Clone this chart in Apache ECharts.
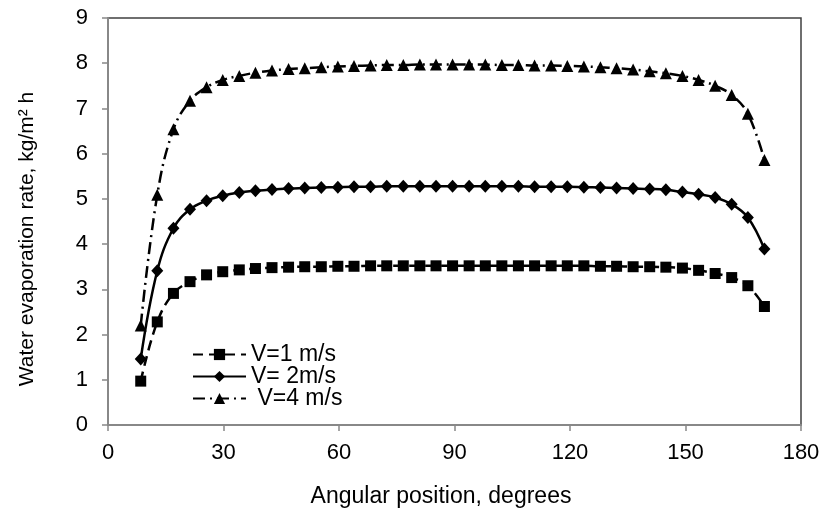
<!DOCTYPE html>
<html>
<head>
<meta charset="utf-8">
<script src="https://cdn.jsdelivr.net/npm/echarts@6/dist/echarts.min.js"></script>
<style>
html,body{margin:0;padding:0;background:#fff;}
#chart{width:823px;height:512px;}
</style>
</head>
<body>
<div id="chart"></div>
<script>
const angles = [8.5, 12.8, 17.0, 21.3, 25.6, 29.8, 34.1, 38.3, 42.6, 46.9, 51.1, 55.4, 59.7, 63.9, 68.2, 72.4, 76.7, 81.0, 85.2, 89.5, 93.8, 98.0, 102.3, 106.6, 110.8, 115.1, 119.3, 123.6, 127.9, 132.1, 136.4, 140.7, 144.9, 149.2, 153.4, 157.7, 162.0, 166.2, 170.5];
const v1 = [0.97, 2.28, 2.91, 3.17, 3.32, 3.39, 3.43, 3.46, 3.48, 3.49, 3.50, 3.50, 3.51, 3.51, 3.52, 3.52, 3.52, 3.52, 3.52, 3.52, 3.52, 3.52, 3.52, 3.52, 3.52, 3.52, 3.52, 3.52, 3.51, 3.51, 3.50, 3.50, 3.49, 3.47, 3.42, 3.35, 3.26, 3.08, 2.62];
const v2 = [1.46, 3.41, 4.35, 4.77, 4.96, 5.07, 5.14, 5.18, 5.21, 5.23, 5.24, 5.25, 5.26, 5.27, 5.27, 5.28, 5.28, 5.28, 5.28, 5.28, 5.28, 5.28, 5.28, 5.28, 5.27, 5.27, 5.27, 5.26, 5.25, 5.24, 5.23, 5.22, 5.20, 5.15, 5.10, 5.03, 4.88, 4.59, 3.89];
const v4 = [2.20, 5.09, 6.54, 7.17, 7.47, 7.63, 7.72, 7.79, 7.84, 7.87, 7.89, 7.91, 7.93, 7.94, 7.95, 7.96, 7.96, 7.97, 7.97, 7.97, 7.97, 7.97, 7.96, 7.96, 7.95, 7.95, 7.94, 7.93, 7.91, 7.89, 7.86, 7.82, 7.78, 7.72, 7.63, 7.50, 7.30, 6.88, 5.86];
const seriesNames = ['V=1 m/s', 'V= 2m/s', ' V=4 m/s'];
const xTitle = 'Angular position, degrees';
const yTitle = 'Water evaporation rate, kg/m\u00b2 h';

const pair = (ys) => angles.map((a, i) => [a, ys[i]]);
const font = 'Liberation Sans, Arial, sans-serif';

const chart = echarts.init(document.getElementById('chart'), null, {renderer: 'canvas'});
chart.setOption({
  animation: false,
  backgroundColor: '#fff',
  textStyle: {fontFamily: font, color: '#000'},
  grid: {left: 108, right: 22, top: 18, bottom: 87, show: true, borderColor: '#404040', borderWidth: 1.5},
  legend: {
    orient: 'vertical', left: 187, top: 338,
    itemWidth: 53, itemHeight: 14, itemGap: -1,
    textStyle: {fontFamily: font, fontSize: 23, color: '#000', lineHeight: 21},
    data: seriesNames
  },
  graphic: [
    {type: 'text', x: 441, y: 497, style: {text: xTitle, font: '23px ' + font, fill: '#000', textAlign: 'center', textVerticalAlign: 'middle'}},
    {type: 'text', x: 27, y: 239, rotation: Math.PI / 2, style: {text: yTitle, font: '21px ' + font, fill: '#000', textAlign: 'center', textVerticalAlign: 'middle'}}
  ],
  xAxis: {
    type: 'value', min: 0, max: 180, interval: 30,
    axisLine: {show: true, lineStyle: {color: '#888', width: 2}},
    axisTick: {show: true, length: 6, lineStyle: {color: '#888', width: 1.5}},
    axisLabel: {fontFamily: font, fontSize: 22, color: '#000', margin: 17},
    splitLine: {show: false}
  },
  yAxis: {
    type: 'value', min: 0, max: 9, interval: 1,
    axisLine: {show: true, lineStyle: {color: '#888', width: 2}},
    axisTick: {show: true, length: 6, lineStyle: {color: '#888', width: 1.5}},
    axisLabel: {fontFamily: font, fontSize: 22, color: '#000', margin: 20},
    splitLine: {show: false}
  },
  series: [
    {
      name: seriesNames[0], type: 'line', data: pair(v1), smooth: 0.4,
      symbol: 'rect', symbolSize: 11,
      itemStyle: {color: '#000'},
      lineStyle: {color: '#000', width: 2.5, type: [10, 6]}
    },
    {
      name: seriesNames[1], type: 'line', data: pair(v2), smooth: 0.4,
      symbol: 'diamond', symbolSize: [12, 13],
      itemStyle: {color: '#000'},
      lineStyle: {color: '#000', width: 2.5, type: 'solid'}
    },
    {
      name: seriesNames[2], type: 'line', data: pair(v4), smooth: 0.4,
      symbol: 'triangle', symbolSize: [12, 12],
      itemStyle: {color: '#000'},
      lineStyle: {color: '#000', width: 2.5, type: [12, 5, 2, 5]}
    }
  ]
});
</script>
</body>
</html>
